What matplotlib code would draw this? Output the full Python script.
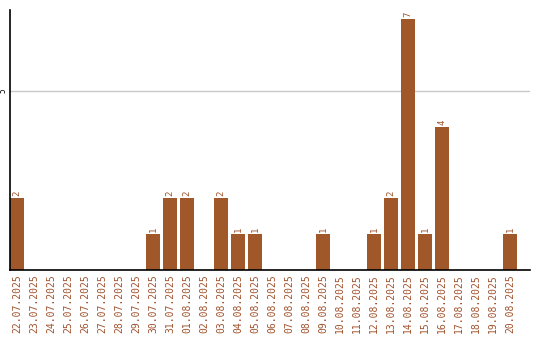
import matplotlib
matplotlib.use("Agg")
import matplotlib.pyplot as plt
import numpy as np

# dates and counts
dates = ["22.07.2025", "23.07.2025", "24.07.2025", "25.07.2025", "26.07.2025",
         "27.07.2025", "28.07.2025", "29.07.2025", "30.07.2025", "31.07.2025",
         "01.08.2025", "02.08.2025", "03.08.2025", "04.08.2025", "05.08.2025",
         "06.08.2025", "07.08.2025", "08.08.2025", "09.08.2025", "10.08.2025",
         "11.08.2025", "12.08.2025", "13.08.2025", "14.08.2025", "15.08.2025",
         "16.08.2025", "17.08.2025", "18.08.2025", "19.08.2025", "20.08.2025"]
counts = [2, 0, 0, 0, 0, 0, 0, 0, 1, 2,
          2, 0, 2, 1, 1, 0, 0, 0, 1, 0,
          0, 1, 2, 7, 1, 4, 0, 0, 0, 1]
yticks = [5]

bar_color = "#A0572A"
text_color = "#A0522D"

fig = plt.figure(figsize=(5.4, 3.4), dpi=100)
ax = fig.add_axes([10 / 540, 70 / 340, 520 / 540, 260 / 340])

x = np.arange(len(dates))
ax.bar(x, counts, width=0.82, color=bar_color, zorder=2)

# value labels above non-zero bars
for xi, c in zip(x, counts):
    if c > 0:
        ax.text(xi, c + 0.06, str(c), rotation=90, ha="center", va="bottom",
                fontsize=6.5, family="DejaVu Sans Mono", color=text_color)

ax.set_xlim(-0.41, 30.18)
ax.set_ylim(0, 7.26)
ax.set_xticks(x)
ax.set_xticklabels(dates, rotation=90, fontsize=7, family="DejaVu Sans Mono",
                   color=text_color)
ax.set_yticks(yticks)
ax.set_yticklabels([str(t) for t in yticks], rotation=90, fontsize=5.5,
                   va="center", family="DejaVu Sans Mono")
ax.tick_params(axis="x", length=0, pad=3)
ax.tick_params(axis="y", length=0, pad=1.5)
ax.yaxis.grid(True, color="#c8c8c8", linewidth=1, zorder=0)

ax.spines["top"].set_visible(False)
ax.spines["right"].set_visible(False)
ax.spines["left"].set_linewidth(1.2)
ax.spines["bottom"].set_linewidth(1.2)

fig.savefig("out.png", dpi=100)
